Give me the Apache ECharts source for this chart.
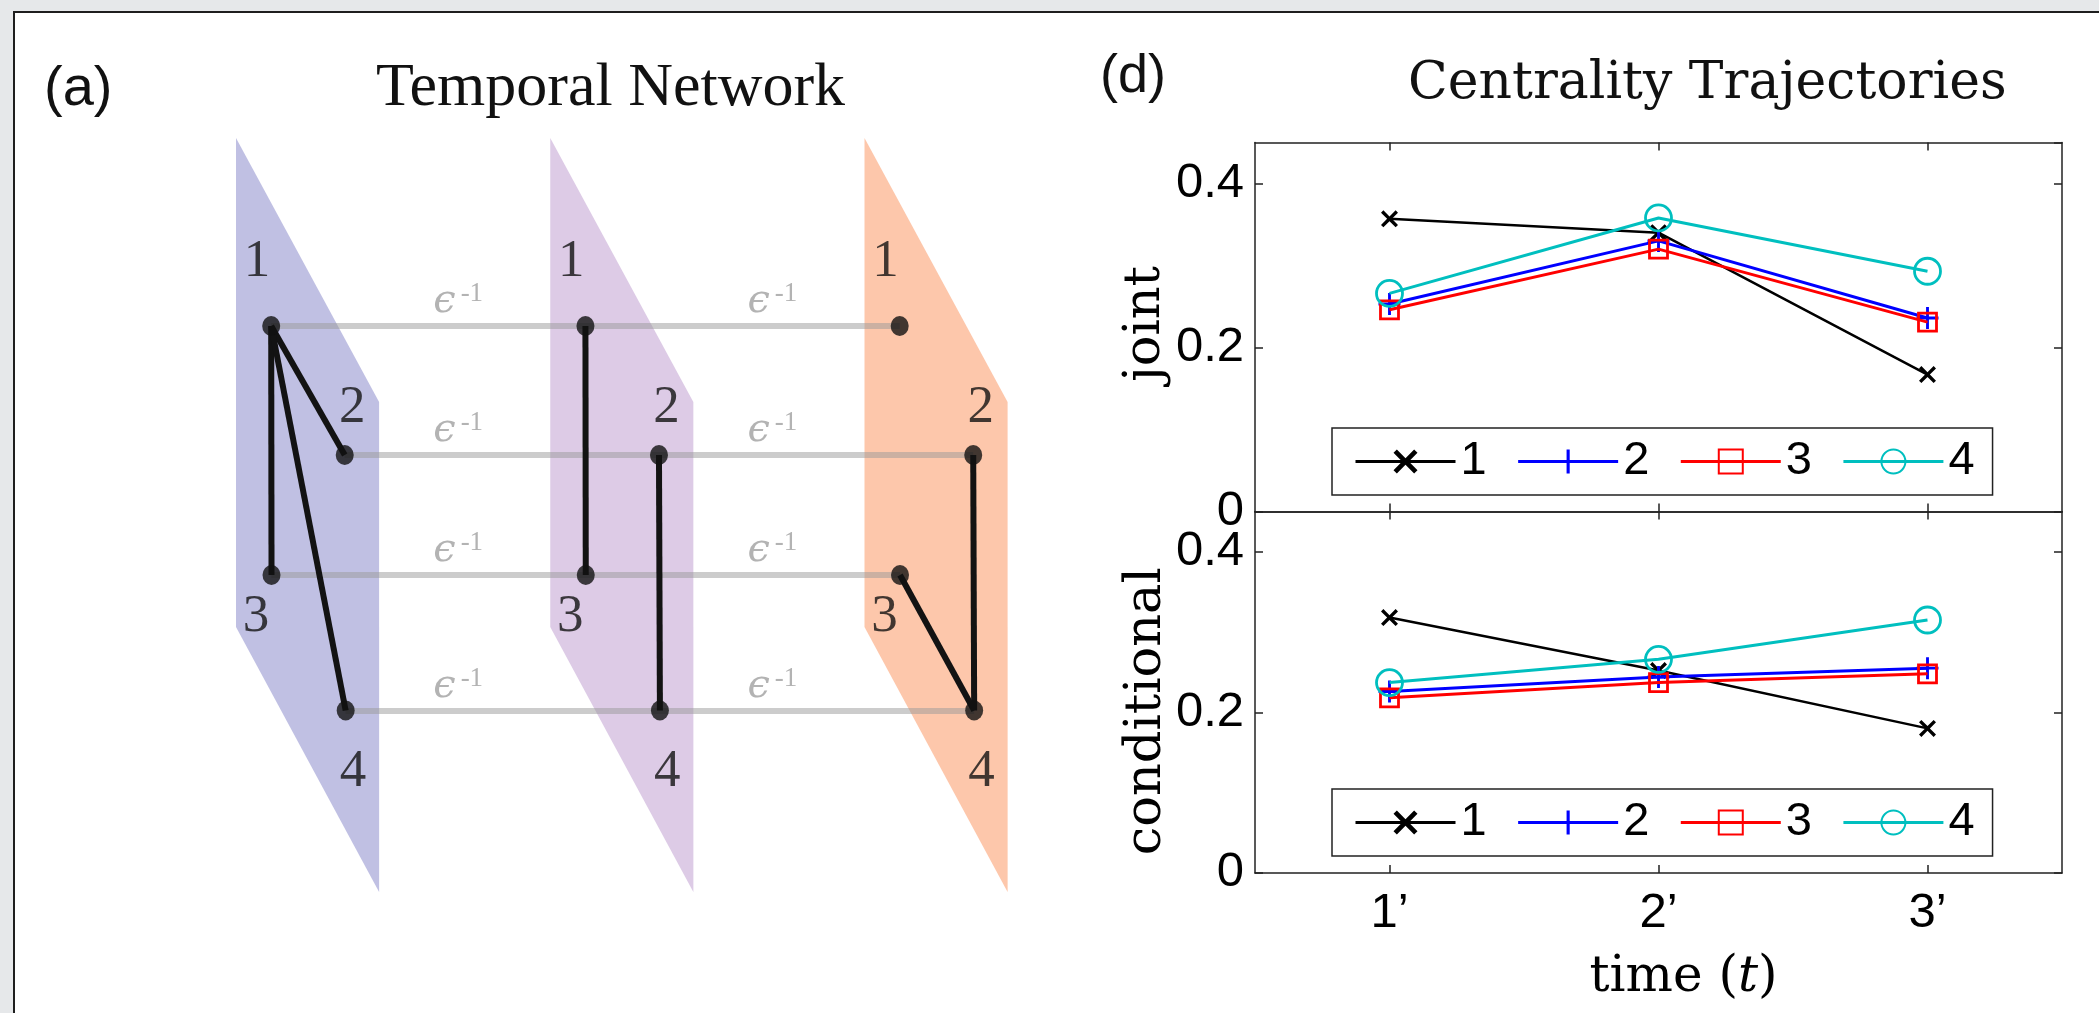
<!DOCTYPE html>
<html><head><meta charset="utf-8">
<script src="https://cdn.jsdelivr.net/npm/echarts@6/dist/echarts.min.js"></script>
<style>html,body{margin:0;padding:0;background:#e6e8ea;overflow:hidden}#c{width:2099px;height:1013px}</style>
</head><body><div id="c"></div>
<script>
// ---------- data: centrality trajectories ----------
const categories = ['1’', '2’', '3’'];
const seriesNames = ['1', '2', '3', '4'];
const joint1 = [0.357, 0.340, 0.167];
const joint2 = [0.253, 0.330, 0.236];
const joint3 = [0.246, 0.320, 0.231];
const joint4 = [0.266, 0.358, 0.293];
const cond1 = [0.318, 0.252, 0.180];
const cond2 = [0.226, 0.244, 0.255];
const cond3 = [0.218, 0.237, 0.248];
const cond4 = [0.237, 0.266, 0.315];

// ---------- data: temporal network ----------
const layers = [1, 2, 3];
const layerNames = ['1’', '2’', '3’'];
const nodeNames = ['1', '2', '3', '4'];
const nodeDepth = [0.112, 0.346, 0.113, 0.349];   // position across a layer plane (layer units)
const nodeLevel = [188, 317, 437, 572.5];          // height within the plane (diagram units)
const intraEdges = [[1, 1, 2], [1, 1, 3], [1, 1, 4], [2, 1, 3], [2, 2, 4], [3, 2, 4], [3, 3, 4]];

// ---------- layout / style constants ----------
const PLANE = [[0, 0], [0.4554, 264], [0.4554, 754], [0, 489]];
const PLANE_COLORS = ['#c0c0e3', '#ddcbe6', '#fdc7ab'];
const NODE_LABEL_POS = [[0.067, 124], [0.370, 270], [0.064, 479], [0.372, 634]];
const LAYER_LABEL_POS = [0.37, 812];
const EPS_DX = 0.707, EPS_DY = -24;
const COLORS = ['#000000', '#0000ff', '#ff0000', '#00bfbf'];
const SYM_X = 'path://M0,1.4L1.4,0L5,3.6L8.6,0L10,1.4L6.4,5L10,8.6L8.6,10L5,6.4L1.4,10L0,8.6L3.6,5Z';
const SYM_PLUS = 'path://M4.35,0H5.65V4.35H10V5.65H5.65V10H4.35V5.65H0V4.35H4.35Z';
const SYMBOLS = [SYM_X, SYM_PLUS, 'rect', 'circle'];
const SYM_SIZES = [17, 22, 18, 26];
const SANS = 'Liberation Sans, Arial, sans-serif';
const SERIF = 'Liberation Serif, serif';
const DSERIF = 'DejaVu Serif, serif';
const AX = '#222';

const chart = echarts.init(document.getElementById('c'), null, {renderer: 'canvas'});

function lineSeries(name, i, data, xi, yi) {
  const hollow = i >= 2;
  return {
    type: 'line', name, data, xAxisIndex: xi, yAxisIndex: yi,
    symbol: SYMBOLS[i], symbolSize: SYM_SIZES[i], showSymbol: true, showAllSymbol: true,
    symbolKeepAspect: true, z: 2 + i,
    lineStyle: {color: COLORS[i], width: i === 0 ? 2.5 : 3},
    itemStyle: hollow ? {color: 'rgba(0,0,0,0)', borderColor: COLORS[i], borderWidth: 2.8}
                      : {color: COLORS[i], borderWidth: 0},
    emphasis: {disabled: true}
  };
}

function catAxis(grid, pos, showLabel) {
  return {
    type: 'category', gridIndex: grid, position: pos, data: categories, boundaryGap: true,
    axisLine: {show: true, onZero: false, lineStyle: {color: AX, width: 1.5}},
    axisTick: {show: true, inside: true, length: 8, alignWithLabel: true, lineStyle: {color: AX, width: 1.5}},
    axisLabel: {show: showLabel, fontSize: 49, fontFamily: SANS, color: '#000', margin: 16},
    splitLine: {show: false}
  };
}
function valAxis(grid, pos, showLabel) {
  return {
    type: 'value', gridIndex: grid, position: pos, min: 0, max: 0.45, interval: 0.2,
    axisLine: {show: true, onZero: false, lineStyle: {color: AX, width: 1.5}},
    axisTick: {show: true, inside: true, length: 8, lineStyle: {color: AX, width: 1.5}},
    axisLabel: {show: showLabel, fontSize: 49, fontFamily: SANS, color: '#000', margin: 11, showMaxLabel: false},
    splitLine: {show: false}
  };
}

const xAxes = [catAxis(0, 'bottom', false), catAxis(0, 'top', false), catAxis(1, 'bottom', true), catAxis(1, 'top', false),
  {type: 'value', gridIndex: 2, min: 1, max: 3.4554, show: false}];
xAxes[2].name = '{r|time (}{i|t}{r|)}';
xAxes[2].nameLocation = 'middle';
xAxes[2].nameGap = 80;
xAxes[2].nameTextStyle = {fontFamily: DSERIF, fontSize: 50, color: '#000', padding: [0, 0, 0, 50],
  rich: {r: {fontFamily: DSERIF, fontSize: 50, color: '#000'}, i: {fontFamily: DSERIF, fontSize: 50, fontStyle: 'italic', color: '#000'}}};

const yAxes = [valAxis(0, 'left', true), valAxis(0, 'right', false), valAxis(1, 'left', true), valAxis(1, 'right', false),
  {type: 'value', gridIndex: 2, min: 0, max: 755, inverse: true, show: false}];
yAxes[0].name = 'joint';
yAxes[0].nameLocation = 'middle';
yAxes[0].nameGap = 84;
yAxes[0].nameTextStyle = {fontFamily: DSERIF, fontSize: 51, color: '#000', padding: [0, 0, 0, 6]};
yAxes[2].name = 'conditional';
yAxes[2].nameLocation = 'middle';
yAxes[2].nameGap = 82;
yAxes[2].nameTextStyle = {fontFamily: DSERIF, fontSize: 51, color: '#000', padding: [0, 38, 0, 0]};

const jointData = [joint1, joint2, joint3, joint4];
const condData = [cond1, cond2, cond3, cond4];
const series = [];
seriesNames.forEach((n, i) => series.push(lineSeries(n, i, jointData[i], 0, 0)));
seriesNames.forEach((n, i) => series.push(lineSeries(n, i, condData[i], 2, 2)));

// temporal network diagram
series.push({
  type: 'custom', coordinateSystem: 'cartesian2d', xAxisIndex: 4, yAxisIndex: 4, silent: true, clip: false, z: 1,
  data: layers.map(l => [l, 0]),
  renderItem: (p, api) => {
    const l = api.value(0);
    return {type: 'polygon', shape: {points: PLANE.map(([dx, dy]) => api.coord([l + dx, dy]))},
      style: {fill: PLANE_COLORS[p.dataIndex]}};
  }
});
series.push({
  type: 'lines', coordinateSystem: 'cartesian2d', xAxisIndex: 4, yAxisIndex: 4, silent: true, z: 3,
  lineStyle: {color: '#9a9a9a', width: 6, opacity: 0.5},
  data: nodeNames.map((n, i) => ({coords: [[layers[0] + nodeDepth[i], nodeLevel[i]], [layers[layers.length - 1] + nodeDepth[i], nodeLevel[i]]]}))
});
series.push({
  type: 'lines', coordinateSystem: 'cartesian2d', xAxisIndex: 4, yAxisIndex: 4, silent: true, z: 4,
  lineStyle: {color: '#131313', width: 6, opacity: 1},
  data: intraEdges.map(([l, a, b]) => ({coords: [[l + nodeDepth[a - 1], nodeLevel[a - 1]], [l + nodeDepth[b - 1], nodeLevel[b - 1]]]}))
});
const nodePts = [];
layers.forEach(l => nodeNames.forEach((n, i) => nodePts.push([l + nodeDepth[i], nodeLevel[i]])));
series.push({
  type: 'scatter', xAxisIndex: 4, yAxisIndex: 4, silent: true, z: 5, symbol: 'circle', symbolSize: [18, 20],
  itemStyle: {color: '#111'}, data: nodePts
});
const nodeLabelPts = [];
layers.forEach(l => nodeNames.forEach((n, i) => nodeLabelPts.push({name: n, value: [l + NODE_LABEL_POS[i][0], NODE_LABEL_POS[i][1]]})));
layers.forEach((l, k) => nodeLabelPts.push({name: layerNames[k], value: [l + LAYER_LABEL_POS[0], LAYER_LABEL_POS[1]]}));
series.push({
  type: 'scatter', xAxisIndex: 4, yAxisIndex: 4, silent: true, z: 6, symbolSize: 1,
  itemStyle: {color: 'rgba(0,0,0,0)'}, data: nodeLabelPts,
  label: {show: true, position: 'inside', formatter: p => p.name, fontFamily: SERIF, fontSize: 53, color: '#111'}
});
const epsPts = [];
layers.slice(0, -1).forEach(l => nodeNames.forEach((n, i) => epsPts.push([l + EPS_DX, nodeLevel[i] + EPS_DY])));
series.push({
  type: 'scatter', xAxisIndex: 4, yAxisIndex: 4, silent: true, z: 6, symbolSize: 1,
  itemStyle: {color: 'rgba(0,0,0,0)'}, data: epsPts,
  label: {show: true, position: 'inside', formatter: '{e|ϵ}{s|-1}',
    rich: {e: {fontFamily: DSERIF, fontStyle: 'italic', fontSize: 40, color: '#a0a0a0'},
           s: {fontFamily: SERIF, fontSize: 27, color: '#a0a0a0', verticalAlign: 'top', padding: [0, 0, 16, 5]}}}
});

const legendBase = {
  data: seriesNames, orient: 'horizontal', itemWidth: 100, itemHeight: 30, itemGap: 30, selectedMode: false,
  padding: [10, 18, 10, 22], borderColor: AX, borderWidth: 1.5, backgroundColor: '#fff',
  lineStyle: {width: 3},
  textStyle: {fontSize: 47, fontFamily: SANS, color: '#000'}
};

const option = {
  animation: false,
  backgroundColor: '#e6e8ea',
  graphic: [{type: 'rect', z: -100, silent: true, shape: {x: 14, y: 12, width: 2200, height: 1100},
    style: {fill: '#ffffff', stroke: '#1e1e1e', lineWidth: 2}}],
  title: [
    {text: '(a)', left: 44, top: 62, padding: 0, textStyle: {fontFamily: SANS, fontSize: 56, fontWeight: 'normal', color: '#111'}},
    {text: 'Temporal Network', left: 376, top: 58, padding: 0, textStyle: {fontFamily: SERIF, fontSize: 62, fontWeight: 'normal', color: '#111'}},
    {text: '(d)', left: 1100, top: 50, padding: 0, textStyle: {fontFamily: SANS, fontSize: 54, fontWeight: 'normal', color: '#111'}},
    {text: 'Centrality Trajectories', left: 1408, top: 58, padding: 0, textStyle: {fontFamily: DSERIF, fontSize: 52, fontWeight: 'normal', color: '#111'}}
  ],
  legend: [Object.assign({}, legendBase, {left: 1332, top: 428}), Object.assign({}, legendBase, {left: 1332, top: 789})],
  grid: [
    {left: 1255, top: 142.5, width: 807, height: 369, outerBoundsMode: 'none'},
    {left: 1255, top: 511.6, width: 807, height: 361.3, outerBoundsMode: 'none'},
    {left: 236, top: 138, width: 771.6, height: 755, outerBoundsMode: 'none'}
  ],
  xAxis: xAxes,
  yAxis: yAxes,
  series
};
chart.setOption(option);
</script></body></html>
